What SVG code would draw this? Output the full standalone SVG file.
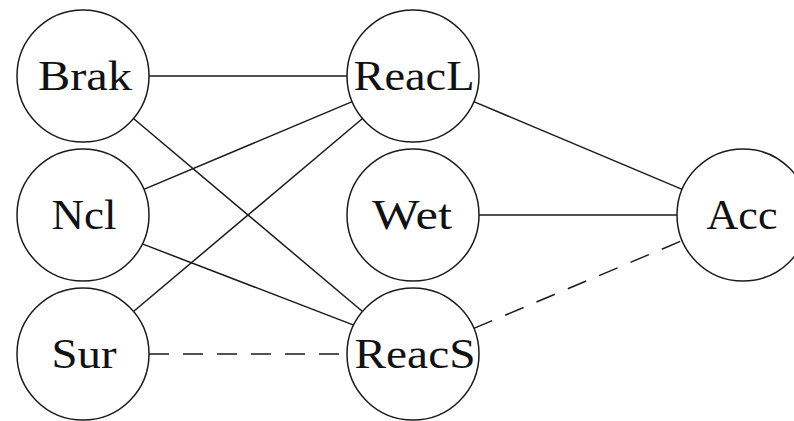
<svg xmlns="http://www.w3.org/2000/svg" width="794" height="421" viewBox="0 0 794 421">
  <style>
    .node circle { fill: #ffffff; stroke: #1a1a1a; stroke-width: 1.5; }
    .node text { font-family: "Liberation Serif", "DejaVu Serif", serif; font-size: 42px; fill: #111111; text-anchor: middle; }
    .edge { stroke: #1a1a1a; stroke-width: 1.5; fill: none; }
    .dashed { stroke-dasharray: 20 14; }
  </style>
  <rect width="794" height="421" fill="#ffffff"/>

  <!-- connectors, drawn between circle borders -->
  <g id="connectors">
    <line class="edge" x1="149" y1="76" x2="347" y2="76"/>
    <line class="edge" x1="133.5" y1="118.5" x2="362.5" y2="311.5"/>
    <line class="edge" x1="143.8" y1="189.4" x2="352.2" y2="101.6"/>
    <line class="edge" x1="142.3" y1="243.9" x2="353.7" y2="325.1"/>
    <line class="edge" x1="133.5" y1="311.5" x2="362.5" y2="118.5"/>
    <line class="edge dashed" x1="149" y1="354" x2="347" y2="354"/>
    <line class="edge" x1="473.8" y1="101.6" x2="682.2" y2="189.4"/>
    <line class="edge" x1="479" y1="215" x2="677" y2="215"/>
    <line class="edge dashed" x1="473.8" y1="328.4" x2="682.2" y2="240.6"/>
  </g>

  <g id="Brak" class="node">
    <circle cx="83" cy="76" r="66"/>
    <text x="85" y="90" textLength="94" lengthAdjust="spacingAndGlyphs">Brak</text>
  </g>
  <g id="Ncl" class="node">
    <circle cx="83" cy="215" r="66"/>
    <text x="84" y="229" textLength="65" lengthAdjust="spacingAndGlyphs">Ncl</text>
  </g>
  <g id="Sur" class="node">
    <circle cx="83" cy="354" r="66"/>
    <text x="84" y="368" textLength="65" lengthAdjust="spacingAndGlyphs">Sur</text>
  </g>
  <g id="ReacL" class="node">
    <circle cx="413" cy="76" r="66"/>
    <text x="414" y="90" textLength="121" lengthAdjust="spacingAndGlyphs">ReacL</text>
  </g>
  <g id="Wet" class="node">
    <circle cx="413" cy="215" r="66"/>
    <text x="412" y="229" textLength="80" lengthAdjust="spacingAndGlyphs">Wet</text>
  </g>
  <g id="ReacS" class="node">
    <circle cx="413" cy="354" r="66"/>
    <text x="415" y="368" textLength="121" lengthAdjust="spacingAndGlyphs">ReacS</text>
  </g>
  <g id="Acc" class="node">
    <circle cx="743" cy="215" r="66"/>
    <text x="742" y="229" textLength="71" lengthAdjust="spacingAndGlyphs">Acc</text>
  </g>
</svg>
